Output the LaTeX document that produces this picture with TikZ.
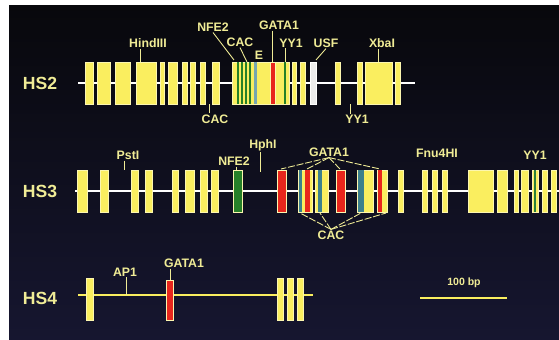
\documentclass[tikz,border=0pt]{standalone}
\usepackage{fontspec}
\setmainfont{Liberation Sans}
\usetikzlibrary{positioning}

\definecolor{bgdark}{RGB}{8,8,12}
\definecolor{bgnavy}{RGB}{22,22,48}
\definecolor{barY}{RGB}{250,238,95}
\definecolor{barR}{RGB}{232,38,28}
\definecolor{barG}{RGB}{38,128,40}
\definecolor{barT}{RGB}{60,128,140}
\definecolor{txtY}{RGB}{240,236,150}

\begin{document}
\begin{tikzpicture}[x=0.02cm, y=-0.02cm,
    blk/.style={fill=barY, draw=barY!50!white, line width=0.3pt},
    redblk/.style={fill=barR, draw=barY!50!white, line width=0.3pt},
    grnblk/.style={fill=barG, draw=barY!50!white, line width=0.3pt},
    axis/.style={draw=white, line width=0.9pt},
    lab/.style={text=txtY, font=\bfseries\fontsize{7}{8}\selectfont, inner sep=0.5pt},
    hs/.style={text=txtY, font=\bfseries\fontsize{10}{11}\selectfont, inner sep=0.5pt},
    tick/.style={draw=txtY, line width=0.5pt},
]
\useasboundingbox (0,0) rectangle (559,340);
\fill[white] (0,0) rectangle (559,340);
\shade[top color=bgdark, bottom color=bgnavy] (9,6) rectangle (559,340);

% HS2
\draw[axis] (78,83) -- (415,83);
\foreach \a/\b in {85/93, 97/110, 115/130, 136/156, 160/164, 168/177, 182/187,
                   190/195, 200/205, 212/219, 232/270, 275/289, 292/296, 300/305,
                   335/340, 357/362, 365/392, 395/400}
  \draw[blk] (\a,62) rectangle (\b,104);
\foreach \x in {237,241,245,249}
  \fill[barG] (\x,62) rectangle (\x+1.5,104);
\fill[barT!70!white] (254,62) rectangle (257,104);
\fill[barG] (284,62) rectangle (285.5,104);
\draw[redblk] (270,62) rectangle (275,104);
\draw[fill=white!85!gray, draw=white] (310,62) rectangle (316,104);

\node[hs] (hs2) at (40,83) {HS2};
\node[lab] (hind) at (148,43) {HindIII};
\node[lab] (nfe2a) at (213,27) {NFE2};
\node[lab] (caca) at (240,42) {CAC};
\node[lab] (ebox) at (259,55) {E};
\node[lab] (gata2) at (279,25) {GATA1};
\node[lab] (yy1a) at (291,43) {YY1};
\node[lab] (usf) at (326,43) {USF};
\node[lab] (xba) at (382,43) {XbaI};
\node[lab] (cacb) at (215,119) {CAC};
\node[lab] (yy1b) at (357,119) {YY1};

\coordinate (hindT) at (140,62);
\coordinate (nfeT) at (234,60);
\coordinate (cacT) at (247,62);
\coordinate (gataT) at (272,62);
\coordinate (yyT) at (285,62);
\coordinate (usfT) at (316,60);
\coordinate (xbaT) at (378,62);
\coordinate (cacB) at (209,104);
\coordinate (yyB) at (350,104);

\draw[tick] (hindT |- hind.south) -- (hindT);
\draw[tick] (nfe2a.south) -- (nfeT);
\draw[tick] (caca.south) -- (cacT);
\draw[tick] (gataT |- gata2.south) -- (gataT);
\draw[tick] (yyT |- yy1a.south) -- (yyT);
\draw[tick] (usf.south) -- (usfT);
\draw[tick] (xbaT |- xba.south) -- (xbaT);
\draw[tick] (cacB |- cacb.north) -- (cacB);
\draw[tick] (yyB |- yy1b.north) -- (yyB);

% HS3
\draw[axis] (75,191) -- (559,191);
\foreach \a/\b in {77/87, 100/108, 131/138, 145/152, 172/178, 185/194, 200/207,
                   211/218, 298/312, 315/328, 357/373, 377/387, 398/403, 422/427,
                   432/437, 442/447, 468/493, 497/507, 514/518, 521/528, 532/538,
                   542/547, 551/556}
  \draw[blk] (\a,170) rectangle (\b,212);
\draw[grnblk] (233,170) rectangle (242,212);
\draw[redblk] (277,170) rectangle (286,212);
\draw[redblk] (336,170) rectangle (345,212);
\fill[barR] (305,170) rectangle (310,212);
\fill[barR] (378,170) rectangle (382,212);
\fill[barT] (299,170) rectangle (302,212);
\fill[barT] (318,170) rectangle (322,212);
\fill[barT] (358,170) rectangle (364,212);
\fill[barG!80!barT] (534,170) rectangle (536,212);

\node[hs] (hs3) at (40,191) {HS3};
\node[lab] (pst) at (128,155) {PstI};
\node[lab] (nfe2b) at (234,161) {NFE2};
\node[lab] (hph) at (263,145) {HphI};
\node[lab] (gata3) at (329,152) {GATA1};
\node[lab] (cac3) at (331,235) {CAC};
\node[lab] (fnu) at (437,153) {Fnu4HI};
\node[lab] (yy13) at (535,155) {YY1};

\coordinate (pstT) at (124,170);
\coordinate (nfeT3) at (236,170);
\coordinate (hphT) at (260,172);
\coordinate (g1) at (281,169);
\coordinate (g2) at (307,169);
\coordinate (g3) at (340,169);
\coordinate (g4) at (380,169);
\coordinate (c1) at (300,213);
\coordinate (c2) at (320,213);
\coordinate (c3) at (361,213);
\coordinate (c4) at (386,213);

\draw[tick] (pstT |- pst.south) -- (pstT);
\draw[tick] (nfeT3 |- nfe2b.south) -- (nfeT3);
\draw[tick] (hphT |- hph.south) -- (hphT);
\foreach \g in {g1,g2,g3,g4}
  \draw[tick, dashed, dash pattern=on 4pt off 1pt] (gata3.south) -- (\g);
\foreach \c in {c1,c2,c3,c4}
  \draw[tick, dashed, dash pattern=on 4pt off 1pt] (cac3.north) -- (\c);

% HS4
\draw[draw=barY, line width=0.9pt] (78,295) -- (313,295);
\foreach \a/\b in {86/93, 277/283, 287/293, 297/303}
  \draw[blk] (\a,278) rectangle (\b,320);
\draw[redblk] (166,280) rectangle (173,320);

\node[hs] (hs4) at (40,298) {HS4};
\node[lab] (ap1) at (125,272) {AP1};
\node[lab] (gata4) at (184,263) {GATA1};
\coordinate (apT) at (126,295);
\coordinate (gT4) at (170,280);
\draw[tick] (apT |- ap1.south) -- (apT);
\draw[tick] (gT4 |- gata4.south) -- (gT4);

% scale bar
\node[lab, font=\bfseries\fontsize{6}{7}\selectfont] (bp) at (464,283) {100 bp};
\coordinate (sbL) at (420,298);
\coordinate (sbR) at (507,298);
\draw[draw=barY, line width=1.2pt] (sbL) -- (sbR);
\end{tikzpicture}
\end{document}
